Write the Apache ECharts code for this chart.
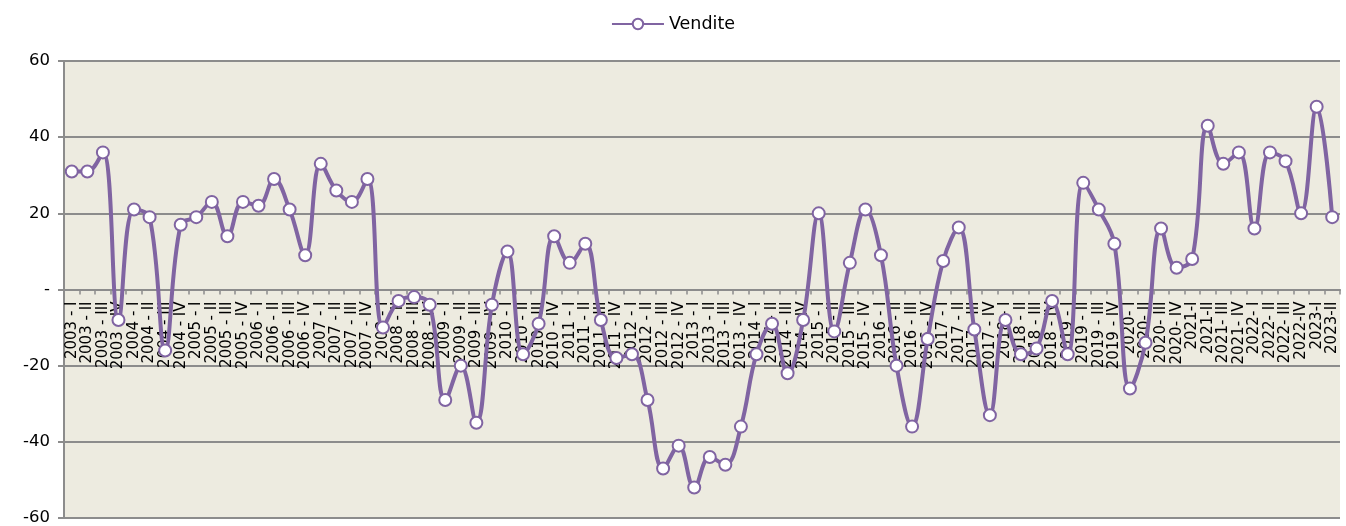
<!DOCTYPE html>
<html>
<head>
<meta charset="utf-8">
<script src="https://cdn.jsdelivr.net/npm/echarts@6/dist/echarts.min.js"></script>
<style>
html,body{margin:0;padding:0;background:#fff;}
#c{width:1346px;height:526px;}
</style>
</head>
<body>
<div id="c"></div>
<script>
const seriesName = 'Vendite';
const categories = [
  '2003 - I','2003 - II','2003 - III','2003 - IV',
  '2004 - I','2004 - II','2004 - III','2004 - IV',
  '2005 - I','2005 - II','2005 - III','2005 - IV',
  '2006 - I','2006 - II','2006 - III','2006 - IV',
  '2007 - I','2007 - II','2007 - III','2007 - IV',
  '2008 - I','2008 - II','2008 - III','2008 - IV',
  '2009 - I','2009 - II','2009 - III','2009 - IV',
  '2010 - I','2010 - II','2010 - III','2010 - IV',
  '2011 - I','2011 - II','2011 - III','2011 - IV',
  '2012 - I','2012 - II','2012 - III','2012 - IV',
  '2013 - I','2013 - II','2013 - III','2013 - IV',
  '2014 - I','2014 - II','2014 - III','2014 - IV',
  '2015 - I','2015 - II','2015 - III','2015 - IV',
  '2016 - I','2016 - II','2016 - III','2016 - IV',
  '2017 - I','2017 - II','2017 - III','2017 - IV',
  '2018 - I','2018 - II','2018 - III','2018 - IV',
  '2019 - I','2019 - II','2019 - III','2019 - IV',
  '2020- I','2020- II','2020- III','2020- IV',
  '2021-I','2021-II','2021- III','2021- IV',
  '2022- I','2022- II','2022- III','2022-IV',
  '2023-I','2023-II'
];
const vendite = [
  31, 31, 36, -8,
  21, 19, -16, 17,
  19, 23, 14, 23,
  22, 29, 21, 9,
  33, 26, 23, 29,
  -10, -3, -2, -4,
  -29, -20, -35, -4,
  10, -17, -9, 14,
  7, 12, -8, -18,
  -17, -29, -47, -41,
  -52, -44, -46, -36,
  -17, -9, -22, -8,
  20, -11, 7, 21,
  9, -20, -36, -13,
  7.5, 16.3, -10.5, -33,
  -8, -17, -15.5, -3,
  -17, 28, 21, 12,
  -26, -14, 16, 5.7,
  8, 43, 33, 36,
  16, 36, 33.7, 20,
  48, 19
];
const yTicks = {min: -60, max: 60, interval: 20};

const gridTop = 61, gridBottom = 8, chartH = 526;
const plotH = chartH - gridTop - gridBottom;
// offset that moves the bottom x axis up to the value 0
const zeroOffset = -plotH * (0 - yTicks.min) / (yTicks.max - yTicks.min);

const chart = echarts.init(document.getElementById('c'), null, {renderer: 'canvas'});
const font = '"DejaVu Sans", sans-serif';
chart.setOption({
  animation: false,
  textStyle: {fontFamily: font},
  legend: {
    top: 10,
    left: 'center',
    itemWidth: 52,
    itemHeight: 13,
    itemGap: 5,
    textStyle: {fontSize: 17.5, color: '#000', fontFamily: font},
    data: [seriesName]
  },
  grid: {
    left: 64, right: 6, top: gridTop, bottom: gridBottom,
    containLabel: false,
    outerBoundsMode: 'none',
    show: true,
    backgroundColor: '#EDEBE0',
    borderWidth: 0
  },
  xAxis: {
    type: 'category',
    data: categories,
    boundaryGap: true,
    offset: zeroOffset,
    axisLine: {onZero: false, lineStyle: {color: '#8C8C8C', width: 2}},
    axisTick: {show: true, length: 5, lineStyle: {color: '#8C8C8C', width: 1.5}},
    axisLabel: {interval: 0, rotate: 90, fontSize: 15, color: '#000', margin: 12, fontFamily: font,
      hideOverlap: false},
    splitLine: {show: false}
  },
  yAxis: {
    type: 'value',
    min: yTicks.min, max: yTicks.max, interval: yTicks.interval,
    axisLine: {show: true, lineStyle: {color: '#8C8C8C', width: 2}},
    axisTick: {show: true, length: 6, lineStyle: {color: '#8C8C8C', width: 2}},
    axisLabel: {fontSize: 16.5, color: '#000', margin: 14, fontFamily: font,
      formatter: v => v === 0 ? '-' : String(v)},
    splitLine: {show: true, lineStyle: {color: '#8C8C8C', width: 2}}
  },
  series: [{
    name: seriesName,
    type: 'line',
    data: vendite,
    smooth: 0.4,
    symbol: 'circle',
    symbolSize: 12,
    lineStyle: {color: '#8064A2', width: 4},
    itemStyle: {color: '#FFFFFF', borderColor: '#8064A2', borderWidth: 2},
    z: 5
  }]
});
</script>
</body>
</html>
